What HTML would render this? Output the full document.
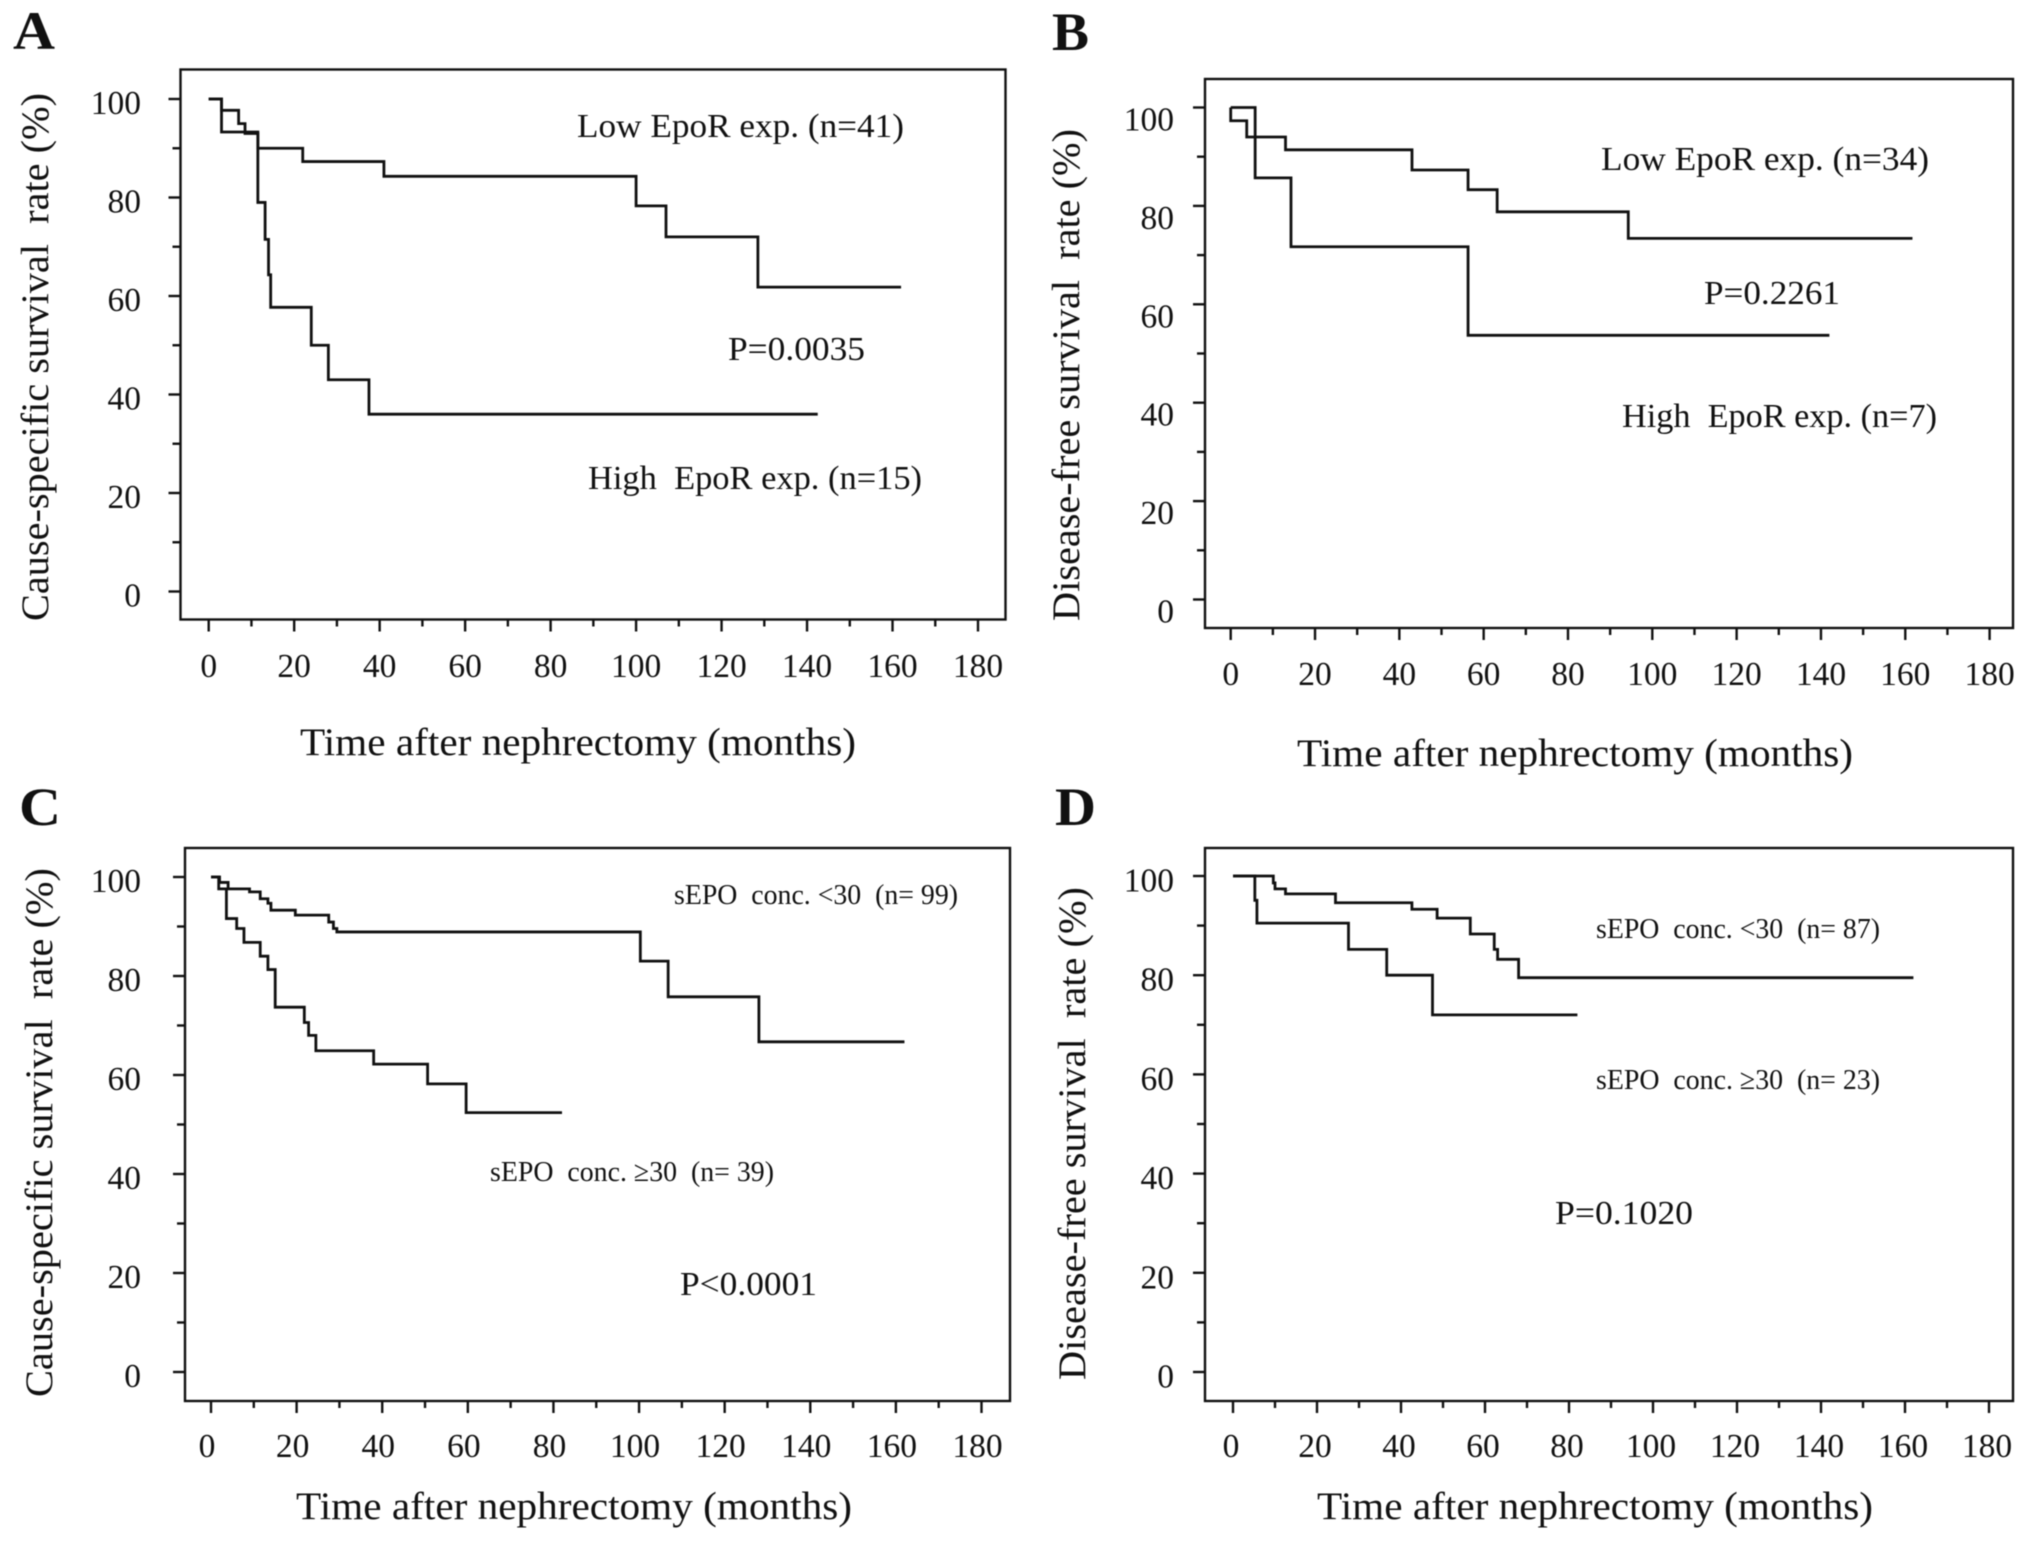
<!DOCTYPE html>
<html lang="en">
<head>
<meta charset="utf-8">
<title>Kaplan-Meier survival curves by EpoR expression and sEPO concentration</title>
<style>
  html, body { margin: 0; padding: 0; background: #fff; }
  svg { display: block; filter: blur(0.6px); }
  text { font-family: "Liberation Serif", "Noto Serif CJK SC", serif; fill: #111; white-space: pre; }
  .tick { font-size: 33.5px; }
  .axis-title { font-size: 39px; }
  .legend { font-size: 34px; }
  .legend-small { font-size: 29px; }
  .panel-letter { font-size: 54px; font-weight: bold; }
</style>
</head>
<body>
<svg id="figure" xmlns="http://www.w3.org/2000/svg" width="2031" height="1541" viewBox="0 0 2031 1541">
  <rect x="0" y="0" width="2031" height="1541" fill="#fff"/>

  <g id="panel-a">
    <text class="panel-letter" x="13" y="49" textLength="42" lengthAdjust="spacingAndGlyphs">A</text>
    <text class="axis-title" transform="translate(48,621) rotate(-90)" textLength="528" lengthAdjust="spacingAndGlyphs">Cause-specific survival  rate (%)</text>
    <text class="axis-title" x="300" y="755" textLength="556" lengthAdjust="spacingAndGlyphs">Time after nephrectomy (months)</text>
    <text class="legend" x="577" y="137" textLength="327" lengthAdjust="spacingAndGlyphs">Low EpoR exp. (n=41)</text>
    <text class="legend" x="588" y="489" textLength="334" lengthAdjust="spacingAndGlyphs">High  EpoR exp. (n=15)</text>
    <text class="legend" x="728" y="360" textLength="137" lengthAdjust="spacingAndGlyphs">P=0.0035</text>
  </g>

  <g id="panel-b">
    <text class="panel-letter" x="1052" y="50" textLength="37" lengthAdjust="spacingAndGlyphs">B</text>
    <text class="axis-title" transform="translate(1079,621) rotate(-90)" textLength="492" lengthAdjust="spacingAndGlyphs">Disease-free survival  rate (%)</text>
    <text class="axis-title" x="1297" y="766" textLength="556" lengthAdjust="spacingAndGlyphs">Time after nephrectomy (months)</text>
    <text class="legend" x="1601" y="170" textLength="328" lengthAdjust="spacingAndGlyphs">Low EpoR exp. (n=34)</text>
    <text class="legend" x="1622" y="427" textLength="315" lengthAdjust="spacingAndGlyphs">High  EpoR exp. (n=7)</text>
    <text class="legend" x="1704" y="304" textLength="136" lengthAdjust="spacingAndGlyphs">P=0.2261</text>
  </g>

  <g id="panel-c">
    <text class="panel-letter" x="19" y="825" textLength="42" lengthAdjust="spacingAndGlyphs">C</text>
    <text class="axis-title" transform="translate(52,1397) rotate(-90)" textLength="529" lengthAdjust="spacingAndGlyphs">Cause-specific survival  rate (%)</text>
    <text class="axis-title" x="296" y="1519" textLength="556" lengthAdjust="spacingAndGlyphs">Time after nephrectomy (months)</text>
    <text class="legend-small" x="674" y="904" textLength="284" lengthAdjust="spacingAndGlyphs">sEPO  conc. &lt;30  (n= 99)</text>
    <text class="legend-small" x="490" y="1181" textLength="284" lengthAdjust="spacingAndGlyphs">sEPO  conc. ≥30  (n= 39)</text>
    <text class="legend" x="680" y="1295" textLength="137" lengthAdjust="spacingAndGlyphs">P&lt;0.0001</text>
  </g>

  <g id="panel-d">
    <text class="panel-letter" x="1055" y="825" textLength="41" lengthAdjust="spacingAndGlyphs">D</text>
    <text class="axis-title" transform="translate(1085,1380) rotate(-90)" textLength="493" lengthAdjust="spacingAndGlyphs">Disease-free survival  rate (%)</text>
    <text class="axis-title" x="1317" y="1519" textLength="556" lengthAdjust="spacingAndGlyphs">Time after nephrectomy (months)</text>
    <text class="legend-small" x="1596" y="938" textLength="284" lengthAdjust="spacingAndGlyphs">sEPO  conc. &lt;30  (n= 87)</text>
    <text class="legend-small" x="1596" y="1089" textLength="284" lengthAdjust="spacingAndGlyphs">sEPO  conc. ≥30  (n= 23)</text>
    <text class="legend" x="1555" y="1224" textLength="138" lengthAdjust="spacingAndGlyphs">P=0.1020</text>
  </g>
</svg>

<script>
// Shared axis labels
const xTickLabels = [0, 20, 40, 60, 80, 100, 120, 140, 160, 180];
const yTickLabels = [0, 20, 40, 60, 80, 100];
const xMinorTicks = [10, 30, 50, 70, 90, 110, 130, 150, 170];
const yMinorTicks = [10, 30, 50, 70, 90];

// Panel A: event month and survival % after each step; last entry is end of follow-up
const timesLowA = [0, 3, 7, 8.5, 11.5, 22, 41, 100, 107, 128.5, 162];
const survivalLowA = [100, 97.7, 95, 93, 90, 87.3, 84.3, 78.3, 72, 61.8, 61.8];
const timesHighA = [0, 3, 11.5, 13.2, 14, 14.5, 24, 28, 37.5, 142.5];
const survivalHighA = [100, 93.3, 79, 71.5, 64.3, 57.7, 50, 43, 36, 36];

// Panel B
const timesLowB = [0, 0, 3.8, 13, 43, 56.3, 63.2, 94.3, 161.7];
const survivalLowB = [100, 97.3, 94, 91.4, 87.3, 83.3, 78.8, 73.4, 73.4];
const timesHighB = [0, 5.8, 14.3, 56.3, 142];
const survivalHighB = [100, 85.7, 71.7, 53.7, 53.7];

// Panel C
const timesLowC = [0, 2, 4, 9, 11.5, 13.3, 14, 19.7, 27.5, 28.6, 29.4, 100.3, 106.8, 128, 162];
const survivalLowC = [100, 98.9, 97.6, 97, 95.6, 94.7, 93.3, 92.3, 90.9, 89.6, 88.9, 83, 75.8, 66.7, 66.7];
const timesHighC = [0, 1.8, 3.6, 6, 7.7, 11.5, 13.3, 15, 21.8, 22.8, 24.5, 38, 50.6, 59.6, 82];
const survivalHighC = [100, 97.6, 91.6, 89.6, 86.8, 84, 81.3, 73.7, 70.6, 68, 64.9, 62.2, 58.2, 52.4, 52.4];

// Panel D
const timesLowD = [0, 9.6, 10, 12.5, 24.4, 42.6, 48.6, 56.5, 62.2, 63, 68, 162];
const survivalLowD = [100, 98.6, 97.4, 96.4, 94.6, 93.3, 91.5, 88.3, 85.2, 83.2, 79.5, 79.5];
const timesHighD = [0, 5.2, 5.7, 27.5, 36.6, 47.5, 82];
const survivalHighD = [100, 95.1, 90.5, 85.2, 80, 72, 72];

const SVG_NS = 'http://www.w3.org/2000/svg';

function addLine(parent, x1, y1, x2, y2, name) {
  const el = document.createElementNS(SVG_NS, 'line');
  el.setAttribute('x1', x1);
  el.setAttribute('y1', y1);
  el.setAttribute('x2', x2);
  el.setAttribute('y2', y2);
  el.setAttribute('stroke', '#111');
  el.setAttribute('stroke-width', '2.4');
  
  
  parent.appendChild(el);
}

function addTickLabel(parent, x, y, anchor, value, name) {
  const el = document.createElementNS(SVG_NS, 'text');
  el.setAttribute('x', x);
  el.setAttribute('y', y);
  el.setAttribute('text-anchor', anchor);
  el.setAttribute('class', 'tick');
  
  
  el.textContent = String(value);
  parent.appendChild(el);
}

function addCurve(parent, times, values, scaleX, scaleY, name) {
  let d = 'M' + scaleX(times[0]) + ' ' + scaleY(values[0]);
  for (let i = 1; i < times.length; i++) {
    d += ' H' + scaleX(times[i]) + ' V' + scaleY(values[i]);
  }
  const el = document.createElementNS(SVG_NS, 'path');
  el.setAttribute('d', d);
  el.setAttribute('fill', 'none');
  el.setAttribute('stroke', '#111');
  el.setAttribute('stroke-width', '2.8');
  
  
  parent.appendChild(el);
}

function drawPanel(id, box, low, high) {
  const parent = document.getElementById(id);
  const scaleX = t => box.x0 + (t / 180) * (box.x180 - box.x0);
  const scaleY = v => box.y0 + (v / 100) * (box.y100 - box.y0);

  const frame = document.createElementNS(SVG_NS, 'rect');
  frame.setAttribute('x', box.left);
  frame.setAttribute('y', box.top);
  frame.setAttribute('width', box.right - box.left);
  frame.setAttribute('height', box.bottom - box.top);
  frame.setAttribute('fill', 'none');
  frame.setAttribute('stroke', '#111');
  frame.setAttribute('stroke-width', '2.4');
  
  
  parent.appendChild(frame);

  xTickLabels.forEach(v => {
    addLine(parent, scaleX(v), box.bottom, scaleX(v), box.bottom + 12, id + '-x-tick');
    addTickLabel(parent, scaleX(v) + box.xLabelShift, box.xLabelY, 'middle', v, id + '-x-tick-label');
  });
  xMinorTicks.forEach(v => {
    addLine(parent, scaleX(v), box.bottom, scaleX(v), box.bottom + 7, id + '-x-minor-tick');
  });
  yTickLabels.forEach(v => {
    addLine(parent, box.left - 12, scaleY(v), box.left, scaleY(v), id + '-y-tick');
    addTickLabel(parent, box.yLabelX, scaleY(v) + box.yLabelShift, 'end', v, id + '-y-tick-label');
  });
  yMinorTicks.forEach(v => {
    addLine(parent, box.left - 8, scaleY(v), box.left, scaleY(v), id + '-y-minor-tick');
  });

  addCurve(parent, low[0], low[1], scaleX, scaleY, id + '-low-survival-curve');
  addCurve(parent, high[0], high[1], scaleX, scaleY, id + '-high-survival-curve');
}

drawPanel('panel-a',
  { left: 180.5, right: 1005.5, top: 69.5, bottom: 619.5, x0: 208.7, x180: 978, y0: 591.5, y100: 99, xLabelY: 677, xLabelShift: 0, yLabelX: 141, yLabelShift: 15 },
  [timesLowA, survivalLowA], [timesHighA, survivalHighA]);
drawPanel('panel-b',
  { left: 1205, right: 2013, top: 79, bottom: 628, x0: 1230.7, x180: 1989.6, y0: 599.5, y100: 107.5, xLabelY: 685, xLabelShift: 0, yLabelX: 1174, yLabelShift: 23 },
  [timesLowB, survivalLowB], [timesHighB, survivalHighB]);
drawPanel('panel-c',
  { left: 185, right: 1010, top: 848, bottom: 1401, x0: 211, x180: 981.5, y0: 1372, y100: 877, xLabelY: 1457, xLabelShift: -4, yLabelX: 141, yLabelShift: 15 },
  [timesLowC, survivalLowC], [timesHighC, survivalHighC]);
drawPanel('panel-d',
  { left: 1205, right: 2013, top: 848, bottom: 1401, x0: 1233, x180: 1989, y0: 1372, y100: 876, xLabelY: 1457, xLabelShift: -2, yLabelX: 1174, yLabelShift: 15.5 },
  [timesLowD, survivalLowD], [timesHighD, survivalHighD]);
</script>
</body>
</html>
